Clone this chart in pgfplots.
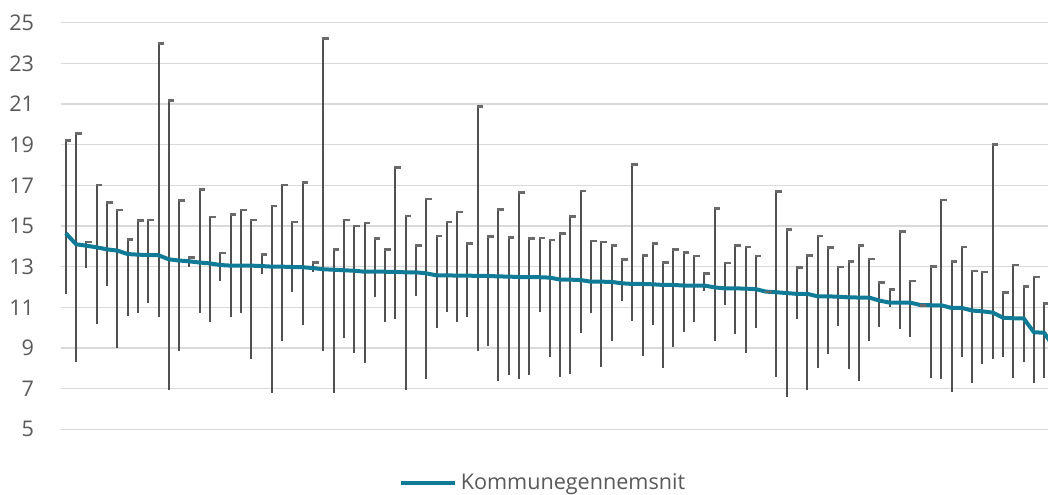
\documentclass[border=0pt]{standalone}
\usepackage{fontspec}
\setmainfont{Open Sans}
\usepackage{pgfplots}
\usepackage{pgfplotstable}
\pgfplotsset{compat=1.18}

\definecolor{avgline}{HTML}{0F7B96}
\definecolor{barcol}{HTML}{505050}
\definecolor{capcol}{HTML}{6A6A6A}
\definecolor{gridcol}{HTML}{D9D9D9}
\definecolor{txtcol}{HTML}{595959}

% small "close" dash to the right of the top of each high-low line
\pgfdeclareplotmark{closecap}{%
  \pgfpathrectangle{\pgfpoint{-0.5pt}{-1.2pt}}{\pgfpoint{3.3pt}{1.3pt}}%
  \pgfusepathqfill}

% x = municipality, hi/lo = range, avg = kommunegennemsnit
\pgfplotstableread{
x hi lo avg
0 19.26 11.66 14.64
1 19.61 8.30 14.10
2 14.26 12.92 14.03
3 17.07 10.18 13.95
4 16.20 12.07 13.85
5 15.85 8.98 13.79
6 14.38 10.59 13.62
7 15.33 10.70 13.59
8 15.34 11.23 13.57
9 24.02 10.54 13.56
10 21.23 6.92 13.36
11 16.31 8.87 13.30
12 13.49 12.97 13.26
13 16.84 10.70 13.20
14 15.49 10.30 13.16
15 13.72 12.31 13.08
16 15.62 10.54 13.05
17 15.84 10.70 13.05
18 15.34 8.44 13.05
19 13.64 12.64 13.03
20 16.03 6.77 13.00
21 17.07 9.34 13.00
22 15.26 11.77 12.98
23 17.20 10.15 12.97
24 13.26 12.75 12.93
25 24.28 8.87 12.87
26 13.90 6.77 12.85
27 15.34 9.48 12.82
28 15.05 8.77 12.80
29 15.20 8.28 12.75
30 14.43 11.49 12.75
31 13.90 10.26 12.75
32 17.92 10.41 12.74
33 15.54 6.93 12.72
34 14.10 11.57 12.72
35 16.39 7.48 12.67
36 14.56 10.00 12.57
37 15.25 10.79 12.57
38 15.74 10.28 12.56
39 14.18 10.54 12.56
40 20.92 8.85 12.54
41 14.54 9.11 12.54
42 15.87 7.38 12.52
43 14.48 7.67 12.51
44 16.69 7.46 12.49
45 14.44 7.67 12.48
46 14.46 10.75 12.48
47 14.36 8.57 12.46
48 14.69 7.59 12.36
49 15.51 7.70 12.36
50 16.77 9.75 12.34
51 14.31 10.74 12.26
52 14.26 8.05 12.26
53 14.08 9.33 12.25
54 13.41 11.30 12.18
55 18.07 10.33 12.15
56 13.61 8.61 12.15
57 14.20 10.13 12.13
58 13.26 8.02 12.10
59 13.90 9.03 12.10
60 13.74 9.77 12.07
61 13.57 10.30 12.07
62 12.72 11.80 12.07
63 15.90 9.34 11.98
64 13.23 11.11 11.93
65 14.10 9.69 11.93
66 14.03 8.74 11.92
67 13.57 10.00 11.89
68 11.80 11.75 11.77
69 16.74 7.59 11.74
70 14.87 6.61 11.70
71 13.00 10.43 11.66
72 13.61 6.93 11.66
73 14.56 8.00 11.54
74 14.00 8.69 11.54
75 13.03 10.10 11.52
76 13.31 7.95 11.49
77 14.10 7.38 11.48
78 13.44 9.34 11.48
79 12.26 10.05 11.33
80 11.92 11.00 11.23
81 14.77 9.92 11.23
82 12.34 9.52 11.23
83 11.13 11.09 11.11
84 13.05 7.51 11.10
85 16.33 7.46 11.10
86 13.31 6.85 10.97
87 14.03 8.57 10.97
88 12.84 7.30 10.84
89 12.80 8.21 10.80
90 19.07 8.44 10.74
91 11.77 8.54 10.49
92 13.13 7.51 10.46
93 12.07 8.33 10.46
94 12.54 7.26 9.77
95 11.25 7.54 9.75
96 9.00 9.00 9.00
}\kommuner

\begin{document}
\begin{tikzpicture}
\useasboundingbox (-30.35pt,-32.85pt) rectangle (493.7pt,214.65pt);
\begin{axis}[
  at={(0pt,0pt)}, anchor=south west,
  scale only axis, width=493.7pt, height=203.3pt,
  xmin=-0.5, xmax=95.37, ymin=5, ymax=25,
  axis line style={draw=none},
  xtick=\empty,
  ytick={5,7,...,25},
  ymajorgrids, grid style={gridcol, line width=0.75pt},
  major tick length=0pt, tick style={draw=none},
  /pgf/number format/assume math mode=true,
  yticklabel style={font=\fontsize{10.8}{13}\selectfont, text=txtcol, xshift=-9.8pt},
  legend style={at={(0.4895,-0.132)}, anchor=center, draw=none, fill=none,
    font=\fontsize{10.8}{13}\selectfont, text=txtcol},
  legend image code/.code={\draw[#1] (0pt,0pt) -- (27pt,0pt);},
]
\addplot[forget plot, only marks, mark=closecap, color=capcol,
  restrict x to domain=0:95,
  error bars/.cd, y dir=minus, y explicit, error mark=none,
  error bar style={barcol, line width=1pt}]
  table[x=x, y=hi, y error expr=\thisrow{hi}-\thisrow{lo}] {\kommuner};
\addplot[avgline, line width=2pt, line join=round, no marks]
  table[x=x, y=avg] {\kommuner};
\addlegendentry{Kommunegennemsnit}
\end{axis}
\end{tikzpicture}
\end{document}
